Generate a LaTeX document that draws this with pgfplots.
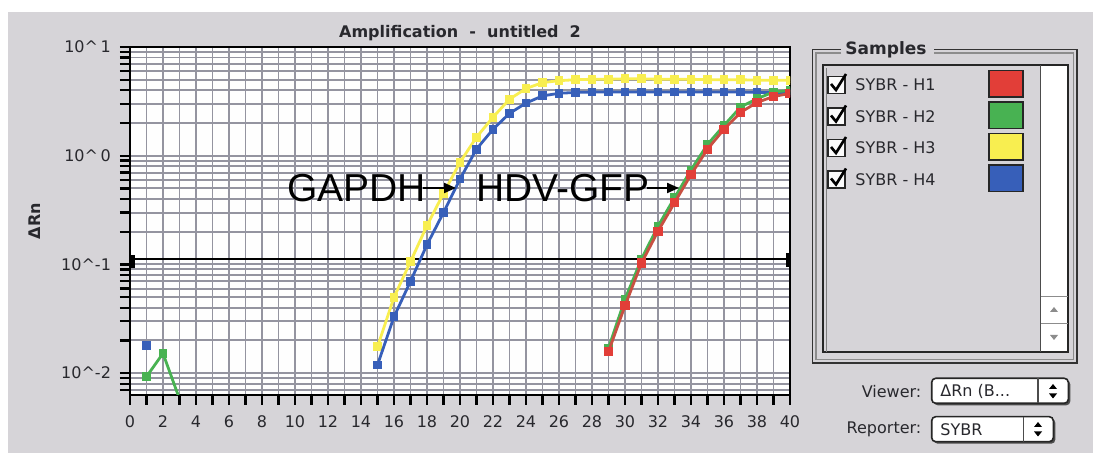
\documentclass[border=0pt]{standalone}
\usepackage{fontspec}
\setmainfont{DejaVu Sans}
\newfontfamily\arialfont{Liberation Sans}
\usepackage{pgfplots}
\pgfplotsset{compat=1.18}
\usetikzlibrary{arrows.meta}
\definecolor{bg}{RGB}{214,212,216}
\definecolor{gridc}{RGB}{148,148,160}
\definecolor{cred}{RGB}{226,62,56}
\definecolor{credline}{RGB}{200,80,66}
\definecolor{cgreen}{RGB}{72,178,82}
\definecolor{cyellow}{RGB}{248,238,80}
\definecolor{cblue}{RGB}{55,95,185}
\definecolor{txt}{RGB}{40,40,45}
\begin{document}
\begin{tikzpicture}
\begin{scope}[x=0.5pt,y=-0.5pt,yshift=226.5pt]
\fill[bg] (8,12) rectangle (1093,453);
\end{scope}
\begin{axis}[
  at={(65pt,29pt)}, anchor=south west,
  scale only axis, width=330pt, height=174pt,
  xmin=0, xmax=40, ymode=log, ymin=0.0063, ymax=10,
  axis background/.style={fill=white!97!bg},
  axis line style={black, line width=1pt},
  xtick={0,2,...,40}, minor xtick={1,3,...,39},
  xticklabels={0,2,4,6,8,10,12,14,16,18,20,22,24,26,28,30,32,34,36,38,40},
  ytick={0.01,0.1,1,10},
  minor ytick={0.007,0.008,0.009,0.02,0.03,0.04,0.05,0.06,0.07,0.08,0.09,0.2,0.3,0.4,0.5,0.6,0.7,0.8,0.9,2,3,4,5,6,7,8,9},
  yticklabels={10\textasciicircum-2,10\textasciicircum-1,10\textasciicircum\,0,10\textasciicircum\,1},
  tick align=outside, tick pos=left,
  major tick length=5pt, minor tick length=5pt,
  tick style={black, line width=1.2pt},
  grid=both,
  major grid style={gridc, line width=0.95pt},
  minor grid style={gridc, line width=0.95pt},
  tick label style={font=\fontsize{8}{9}\selectfont, text=txt},
  xticklabel style={yshift=-2pt},
  yticklabel style={xshift=-1pt},
  unbounded coords=jump,
  clip marker paths=true,
]
% threshold
\addplot[black, line width=1pt, mark=none] coordinates {(0,0.113) (40,0.113)};
% H3 yellow
\addplot[cyellow, line width=1.4pt, mark=square*, mark size=1.5pt] coordinates {
(15,0.0175) (16,0.050) (17,0.106) (18,0.228) (19,0.45) (20,0.87) (21,1.48) (22,2.26) (23,3.31) (24,4.15) (25,4.7) (26,4.9) (27,5.0) (28,5.05) (29,5.05) (30,5.1) (31,5.1) (32,5.05) (33,5.05) (34,5.05) (35,5.0) (36,5.0) (37,5.0) (38,4.95) (39,4.95) (40,4.95)};
% H4 blue
\addplot[cblue, line width=1.4pt, mark=square*, mark size=1.5pt] coordinates {
(1,0.018) (2,nan) (15,0.0119) (16,0.033) (17,0.070) (18,0.152) (19,0.30) (20,0.61) (21,1.15) (22,1.75) (23,2.45) (24,3.05) (25,3.55) (26,3.75) (27,3.82) (28,3.85) (29,3.85) (30,3.85) (31,3.85) (32,3.85) (33,3.85) (34,3.85) (35,3.85) (36,3.85) (37,3.85) (38,3.82) (39,3.82) (40,3.82)};
% H2 green
\addplot[cgreen, line width=1.4pt, mark=square*, mark size=1.5pt] coordinates {
(1,0.0093) (2,0.0152) (3,0.0058) (4,nan) (29,0.017) (30,0.048) (31,0.112) (32,0.225) (33,0.41) (34,0.74) (35,1.27) (36,1.9) (37,2.8) (38,3.35) (39,3.85) (40,4.0)};
% H1 red
\addplot[credline, line width=1.4pt, mark=square*, mark size=1.6pt, mark options={cred}] coordinates {
(29,0.0158) (30,0.0417) (31,0.103) (32,0.202) (33,0.369) (34,0.67) (35,1.15) (36,1.75) (37,2.50) (38,3.09) (39,3.5) (40,3.75)};
\end{axis}
\begin{scope}[x=0.5pt,y=-0.5pt,yshift=226.5pt]
% threshold handles
\fill[black] (130,255) rectangle (135,268);
\fill[black] (786,253) rectangle (791,267);
% title and y label
\node[font=\bfseries\fontsize{8}{9}\selectfont, text=txt] at (460,33) {Amplification\ \ -\ \ untitled\ \ 2};
\node[rotate=90, font=\bfseries\fontsize{8}{9}\selectfont, text=txt] at (35,221) {ΔRn};
% annotations
\node[anchor=west, inner sep=0, font=\arialfont\fontsize{19.5}{20}\selectfont] at (287,188) {GAPDH};
\draw[line width=1pt, -{Triangle[length=6pt,width=5pt]}] (423,188) -- (456,188);
\node[anchor=west, inner sep=0, font=\arialfont\fontsize{19.5}{20}\selectfont] at (476,188) {HDV-GFP};
\draw[line width=1pt, -{Triangle[length=6pt,width=5pt]}] (647,188) -- (679,188);
% samples frame
\draw[black!80, line width=0.8pt] (841,49.5) -- (812.5,49.5) -- (812.5,363) -- (1077,363) -- (1077,49.5) -- (934,49.5);
\draw[black!45, line width=0.6pt] (841,53) -- (816,53) -- (816,359.5) -- (1073.5,359.5) -- (1073.5,53) -- (934,53);
\node[font=\bfseries\fontsize{8.5}{9}\selectfont, text=txt] at (886,50) {Samples};
% list box
\fill[white] (1040.7,65) rectangle (1068,351.7);
\draw[black!85, line width=0.9pt] (823.3,351.7) -- (823.3,65) -- (1068,65) -- (1068,351.7) -- cycle;
\draw[black!50, line width=0.6pt] (826.5,351.7) -- (826.5,68);
\draw[black!70, line width=0.6pt] (1040.7,65) -- (1040.7,351.7);
\draw[black!45, line width=0.5pt] (1040.7,296.7) -- (1068,296.7);
\draw[black!45, line width=0.5pt] (1040.7,323.3) -- (1068,323.3);
\fill[black!45] (1050,312) -- (1058,312) -- (1054,307) -- cycle;
\fill[black!45] (1050,335) -- (1058,335) -- (1054,340) -- cycle;
% rows
\foreach \cy/\lab/\col in {85/H1/cred, 116.5/H2/cgreen, 148/H3/cyellow, 179.5/H4/cblue}{
  \filldraw[fill=white!90!bg, draw=black!85, line width=0.8pt] (828,\cy-8.5) rectangle (845,\cy+8.5);
  \draw[black, line width=1.3pt] (831,\cy-1) -- (836,\cy+5) -- (846,\cy-11);
  \node[anchor=west, inner sep=0, font=\fontsize{8}{9}\selectfont, text=txt] at (855,\cy) {SYBR - \lab};
  \filldraw[fill=\col, draw=black!85, line width=0.8pt] (989,\cy-14.5) rectangle (1023,\cy+12);
}
% viewer
\node[anchor=east, inner sep=0, font=\fontsize{8}{9}\selectfont, text=txt] at (921.7,391.7) {Viewer:};
\fill[black!70, rounded corners=2pt] (933.7,380.3) rectangle (1070.3,405.3);
\filldraw[fill=white, draw=black!85, line width=0.8pt, rounded corners=2pt] (931.7,378.3) rectangle (1068.3,403.3);
\draw[black!70, line width=0.6pt] (1038,378.3) -- (1038,403.3);
\node[anchor=west, inner sep=0, font=\fontsize{8}{9}\selectfont, text=txt] at (940,391) {ΔRn (B...};
\fill[black] (1049,389) -- (1057,389) -- (1053,384) -- cycle;
\fill[black] (1049,393.5) -- (1057,393.5) -- (1053,398.5) -- cycle;
% reporter
\node[anchor=east, inner sep=0, font=\fontsize{8}{9}\selectfont, text=txt] at (921.7,429.3) {Reporter:};
\fill[black!70, rounded corners=2pt] (933.7,418.7) rectangle (1055.3,443.7);
\filldraw[fill=white, draw=black!85, line width=0.8pt, rounded corners=2pt] (931.7,416.7) rectangle (1053.3,441.7);
\draw[black!70, line width=0.6pt] (1023.3,416.7) -- (1023.3,441.7);
\node[anchor=west, inner sep=0, font=\fontsize{8}{9}\selectfont, text=txt] at (940,429.3) {SYBR};
\fill[black] (1034,427) -- (1042,427) -- (1038,422) -- cycle;
\fill[black] (1034,431.5) -- (1042,431.5) -- (1038,436.5) -- cycle;
\end{scope}
\pgfresetboundingbox
\path (0,0) rectangle (546.5pt,226.5pt);
\end{tikzpicture}
\end{document}
